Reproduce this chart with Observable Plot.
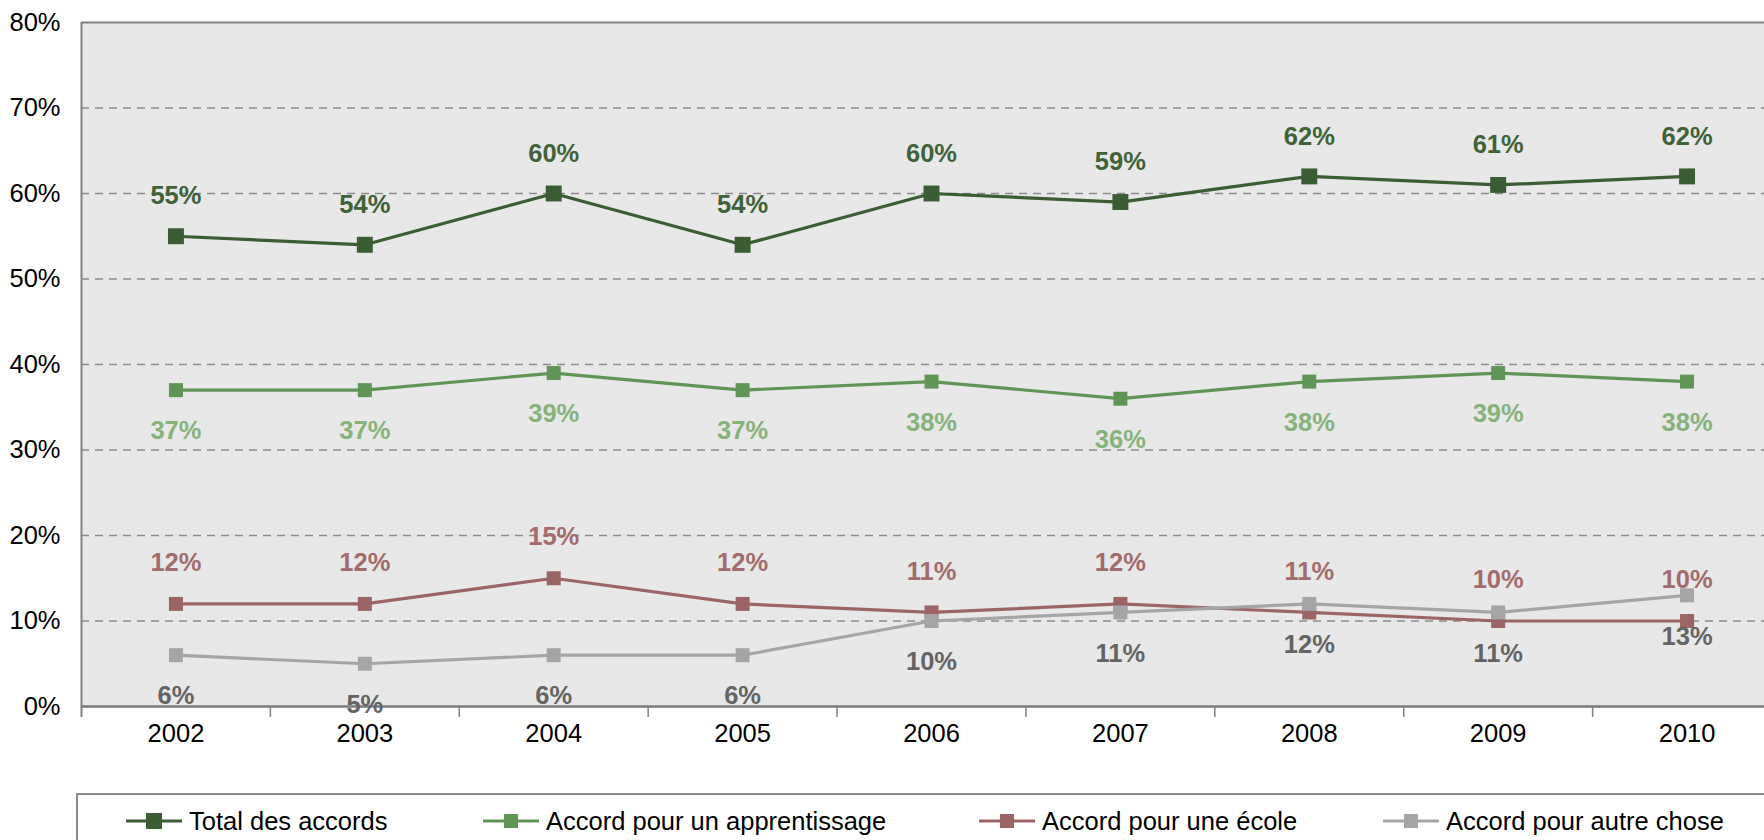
<!DOCTYPE html>
<html>
<head>
<meta charset="utf-8">
<script src="https://cdn.jsdelivr.net/npm/d3@7"></script>
<script src="https://cdn.jsdelivr.net/npm/@observablehq/plot@0.6"></script>
<style>
  html, body { margin: 0; padding: 0; background: #fff; overflow: hidden; width: 1764px; height: 840px; }
  #wrap { position: relative; width: 1764px; height: 840px; font-family: "Liberation Sans", Arial, sans-serif; }
  #chart svg { display: block; }
  #legend { position: absolute; left: 76px; top: 793px; width: 1750px; height: 70px; border: 2px solid #8c8c8c; box-sizing: border-box; background: #fff; }
  .item { position: absolute; top: 0; height: 52px; display: flex; align-items: center; font-size: 25.5px; color: #000; white-space: nowrap; }
  .item svg { margin-right: 7px; }
</style>
</head>
<body>
<div id="wrap">
  <div id="chart"></div>
  <div id="legend"></div>
</div>
<script>
const years = [2002, 2003, 2004, 2005, 2006, 2007, 2008, 2009, 2010];
const seriesNames = ["Total des accords", "Accord pour un apprentissage", "Accord pour une école", "Accord pour autre chose"];
const totalAccords = [55, 54, 60, 54, 60, 59, 62, 61, 62];
const apprentissage = [37, 37, 39, 37, 38, 36, 38, 39, 38];
const ecole = [12, 12, 15, 12, 11, 12, 11, 10, 10];
const autreChose = [6, 5, 6, 6, 10, 11, 12, 11, 13];
const yTicks = [0, 10, 20, 30, 40, 50, 60, 70, 80];

const lineColors = ["#3a5d33", "#5f9655", "#9c6464", "#a5a5a5"];
const labelColors = ["#3f6239", "#85b37a", "#a36b6b", "#646464"];
const labelDy = [-40, 41, -41, 41];
const markerR = [9, 7.9, 7.9, 7.9];
const values = [totalAccords, apprentissage, ecole, autreChose];

const series = seriesNames.map((name, i) => years.map((year, j) => ({ name, year, value: values[i][j] })));

const boundaries = years.slice(0, -1).map(y => y + 0.5);
const font = "Liberation Sans, Arial, sans-serif";
const yMax = yTicks[yTicks.length - 1];

const marks = [
  Plot.rect([{}], { x1: years[0] - 0.5, x2: years[years.length - 1] + 0.5, y1: yTicks[0], y2: yMax, fill: "#e8e8e8" }),
  Plot.gridY(yTicks.slice(1, -1), { stroke: "#8a8a8a", strokeOpacity: 1, strokeWidth: 1.5, strokeDasharray: "8,6" }),
  Plot.ruleY([yMax], { stroke: "#808080", strokeWidth: 2 }),
  Plot.ruleX([years[0] - 0.5], { y1: yMax, y2: yTicks[0], stroke: "#808080", strokeWidth: 2, insetBottom: -11 }),
  Plot.ruleY([0], { stroke: "#7a7a7a", strokeWidth: 2.5 }),
  Plot.axisX(boundaries, { tickSize: 11, tickFormat: () => "", stroke: "#808080", strokeWidth: 1.5, label: null }),
  Plot.axisX(years, { tickSize: 0, tickPadding: 17, tickFormat: d => String(d), fontSize: 25.5, fill: "#000", label: null }),
  Plot.axisY(yTicks, { tickSize: 0, tickPadding: 21, tickFormat: d => d + "%", fontSize: 25.5, fill: "#000", label: null })
];

series.forEach((data, i) => {
  marks.push(Plot.line(data, { x: "year", y: "value", stroke: lineColors[i], strokeWidth: 3.2 }));
  marks.push(Plot.dot(data, { x: "year", y: "value", symbol: "square", r: markerR[i], fill: lineColors[i], stroke: "none" }));
});
series.forEach((data, i) => {
  marks.push(Plot.text(data, { x: "year", y: "value", text: d => d.value + "%", dy: labelDy[i], fill: labelColors[i], fontSize: 25.5, fontWeight: "bold" }));
});

const chart = Plot.plot({
  width: 1764,
  height: 780,
  marginTop: 22,
  marginBottom: 74,
  marginLeft: 81,
  marginRight: 0,
  style: { fontFamily: font, background: "transparent", overflow: "visible" },
  x: { type: "linear", domain: [years[0] - 0.5, years[years.length - 1] + 0.5], range: [81, 1781], label: null },
  y: { domain: [yTicks[0], yMax], label: null },
  marks
});
document.getElementById("chart").appendChild(chart);

// legend
const legendLeft = [48, 405, 901, 1305];
const legend = document.getElementById("legend");
seriesNames.forEach((name, i) => {
  const item = document.createElement("div");
  item.className = "item";
  item.style.left = legendLeft[i] + "px";
  const s = d3.create("svg").attr("width", 56).attr("height", 20);
  s.append("line").attr("x1", 0).attr("x2", 56).attr("y1", 10).attr("y2", 10).attr("stroke", lineColors[i]).attr("stroke-width", 3.2);
  const side = i === 0 ? 16 : 14;
  s.append("rect").attr("x", 28 - side / 2).attr("y", 10 - side / 2).attr("width", side).attr("height", side).attr("fill", lineColors[i]);
  item.appendChild(s.node());
  const t = document.createElement("span");
  t.textContent = name;
  item.appendChild(t);
  legend.appendChild(item);
});
</script>
</body>
</html>
